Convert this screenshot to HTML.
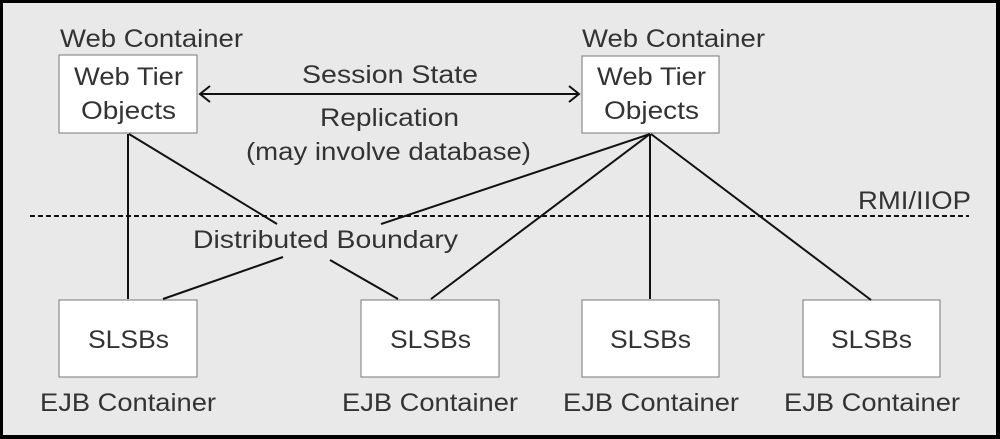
<!DOCTYPE html>
<html><head><style>
html,body{margin:0;padding:0;}
body{width:1000px;height:439px;overflow:hidden;background:#000;}
svg{display:block;}
text{font-family:"Liberation Sans",sans-serif;fill:#333;font-size:25px;}
</style></head><body>
<svg width="1000" height="439" viewBox="0 0 1000 439">
<rect x="3" y="3" width="993" height="432" fill="#e9e9e9"/>
<g fill="#fff" stroke="#777" stroke-width="1">
<rect x="59" y="55" width="138" height="78"/>
<rect x="582" y="56" width="137" height="77"/>
<rect x="59" y="300" width="138" height="77"/>
<rect x="361" y="300" width="138" height="77"/>
<rect x="582" y="300" width="137" height="77"/>
<rect x="803" y="300" width="137" height="77"/>
</g>
<g stroke="#111" stroke-width="2" fill="none">
<line x1="128" y1="134" x2="128" y2="299"/>
<line x1="129" y1="134" x2="277" y2="224"/>
<line x1="163" y1="299" x2="283" y2="257"/>
<line x1="330" y1="260" x2="398" y2="299"/>
<line x1="650" y1="134" x2="381" y2="224"/>
<line x1="650" y1="134" x2="431" y2="299"/>
<line x1="650" y1="134" x2="650" y2="299"/>
<line x1="651" y1="134" x2="871" y2="300"/>
<line x1="200" y1="94" x2="579" y2="94"/>
<polyline points="210,86 200,94 210,102"/>
<polyline points="569,86 579,94 569,102"/>
<line x1="30" y1="216" x2="969" y2="216" stroke-dasharray="5,3"/>
</g>
<g lengthAdjust="spacingAndGlyphs">
<text x="60" y="47" textLength="183" lengthAdjust="spacingAndGlyphs">Web Container</text>
<text x="582" y="47" textLength="183" lengthAdjust="spacingAndGlyphs">Web Container</text>
<text x="74" y="85" textLength="109" lengthAdjust="spacingAndGlyphs">Web Tier</text>
<text x="81" y="119" textLength="95" lengthAdjust="spacingAndGlyphs">Objects</text>
<text x="597" y="85" textLength="109" lengthAdjust="spacingAndGlyphs">Web Tier</text>
<text x="604" y="119" textLength="95" lengthAdjust="spacingAndGlyphs">Objects</text>
<text x="302" y="83" textLength="176" lengthAdjust="spacingAndGlyphs">Session State</text>
<text x="320" y="126" textLength="139" lengthAdjust="spacingAndGlyphs">Replication</text>
<text x="246" y="160" textLength="285" lengthAdjust="spacingAndGlyphs">(may involve database)</text>
<text x="193" y="248" textLength="265" lengthAdjust="spacingAndGlyphs">Distributed Boundary</text>
<text x="858" y="209" textLength="113" lengthAdjust="spacingAndGlyphs">RMI/IIOP</text>
<text x="88" y="348" textLength="81" lengthAdjust="spacingAndGlyphs">SLSBs</text>
<text x="390" y="348" textLength="81" lengthAdjust="spacingAndGlyphs">SLSBs</text>
<text x="610" y="348" textLength="81" lengthAdjust="spacingAndGlyphs">SLSBs</text>
<text x="831" y="348" textLength="81" lengthAdjust="spacingAndGlyphs">SLSBs</text>
<text x="40" y="411" textLength="176" lengthAdjust="spacingAndGlyphs">EJB Container</text>
<text x="342" y="411" textLength="176" lengthAdjust="spacingAndGlyphs">EJB Container</text>
<text x="563" y="411" textLength="176" lengthAdjust="spacingAndGlyphs">EJB Container</text>
<text x="784" y="411" textLength="176" lengthAdjust="spacingAndGlyphs">EJB Container</text>
</g>
</svg>
</body></html>
